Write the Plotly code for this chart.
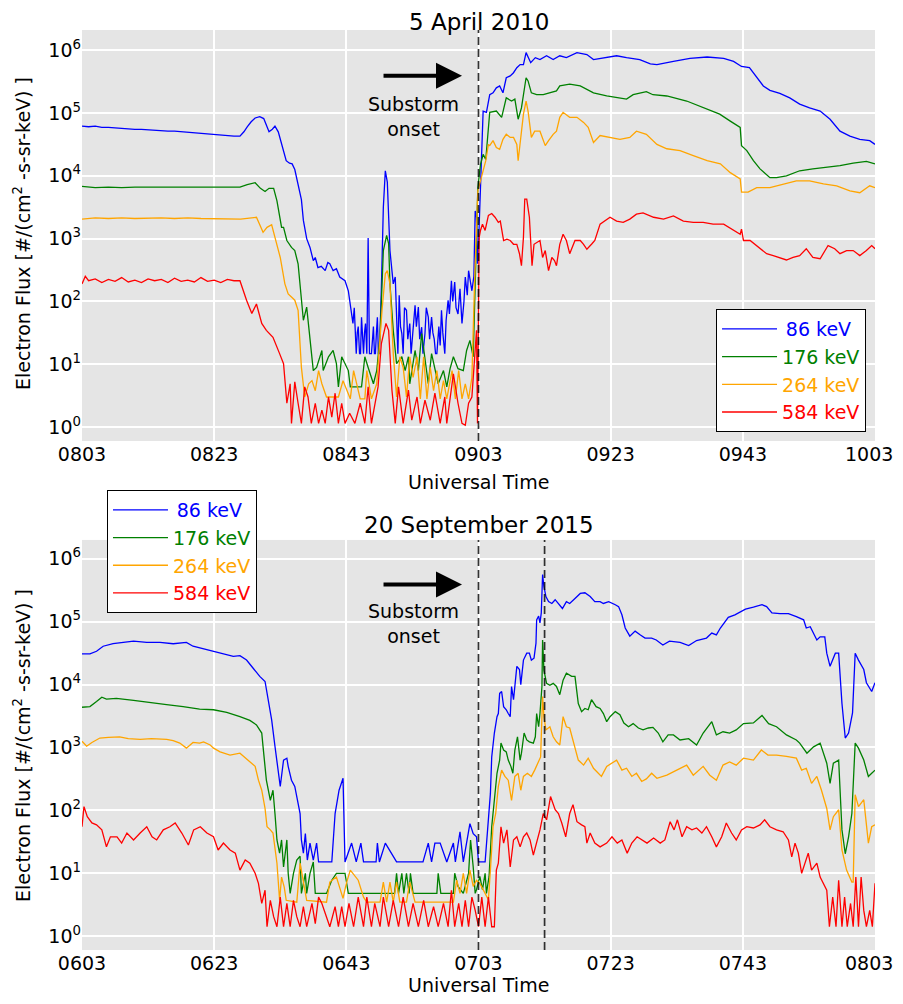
"""Electron flux at four energies around two substorm onsets (5 April 2010, 20 September 2015)."""

import plotly.graph_objects as go

# (minutes after 08:03 UT, log10 flux)
apr_86 = [
    (0, 4.79), (1, 4.78), (2, 4.79), (3, 4.77), (4, 4.77), (5, 4.76), (6, 4.76), (7, 4.75), (8, 4.74), (9, 4.74),
    (10, 4.73), (11, 4.72), (12, 4.72), (13, 4.71), (14, 4.71), (15, 4.70), (16, 4.70), (17, 4.69), (18, 4.68),
    (19, 4.67), (20, 4.65), (21, 4.64), (22, 4.64), (23, 4.63), (23.9, 4.63), (24.5, 4.70), (25, 4.78), (25.6, 4.86),
    (26.2, 4.92), (26.9, 4.94), (27.5, 4.91), (28.3, 4.70), (28.8, 4.74), (29.2, 4.79), (29.7, 4.70), (30.4, 4.45),
    (30.9, 4.24), (31.4, 4.20), (31.8, 4.19), (32.2, 4.10), (32.6, 3.89), (33.2, 3.62), (33.5, 3.29), (34.0, 3.00),
    (34.5, 2.86), (35.0, 2.65), (35.3, 2.70), (35.7, 2.54), (36.2, 2.56), (36.8, 2.49), (37.2, 2.62), (37.5, 2.60),
    (38.0, 2.49), (38.5, 2.52), (39.0, 2.39), (39.8, 2.33), (40.3, 2.17), (40.5, 2.02), (41.0, 1.65), (41.2, 1.90),
    (41.35, 1.40), (41.5, 1.17), (41.65, 1.50), (41.8, 1.60), (42.0, 1.17), (42.15, 1.17), (42.3, 1.75),
    (42.45, 1.30), (42.6, 1.17), (42.75, 1.50), (42.9, 1.65), (43.1, 1.17), (43.3, 3.01), (43.5, 1.17),
    (43.8, 1.17), (44.0, 1.45), (44.1, 1.60), (44.25, 1.17), (44.4, 1.17), (44.55, 1.50), (44.7, 1.75),
    (44.85, 1.17), (45.0, 1.17), (45.3, 2.20), (45.6, 3.50), (45.9, 4.08), (46.2, 3.90), (46.6, 2.81), (47.1, 2.28),
    (47.4, 2.39), (47.6, 1.86), (47.8, 1.17), (48.0, 2.10), (48.2, 1.60), (48.4, 1.49), (48.6, 1.17), (48.8, 1.90),
    (49.1, 1.86), (49.3, 1.40), (49.6, 1.65), (49.8, 1.17), (50.0, 1.40), (50.2, 1.75), (50.4, 1.94), (50.6, 1.60),
    (50.9, 1.91), (51.1, 1.40), (51.4, 1.59), (51.6, 1.17), (51.9, 1.49), (52.1, 1.90), (52.4, 1.75), (52.6, 1.40),
    (52.9, 1.75), (53.1, 1.50), (53.3, 1.40), (53.5, 1.17), (53.7, 1.17), (54.0, 1.60), (54.2, 1.30), (54.4, 1.86),
    (54.6, 1.50), (54.9, 1.17), (55.1, 1.70), (55.4, 2.02), (55.6, 1.80), (55.9, 2.33), (56.1, 2.00), (56.4, 2.31),
    (56.6, 1.90), (56.9, 1.80), (57.2, 2.20), (57.5, 1.65), (57.8, 2.00), (58.0, 2.39), (58.3, 2.10), (58.5, 2.49),
    (58.8, 2.30), (59.0, 2.17), (59.3, 2.40), (59.5, 3.44), (59.7, 3.34), (59.85, 2.60), (60.0, 2.90), (60.5, 4.56),
    (60.7, 5.03), (61.2, 5.01), (61.7, 5.29), (62.2, 5.32), (62.7, 5.40), (63.2, 5.43), (63.7, 5.32), (64.2, 5.56),
    (64.8, 5.59), (65.3, 5.64), (65.8, 5.72), (66.3, 5.77), (66.8, 5.77), (67.2, 5.96), (67.5, 5.88), (67.9, 5.80),
    (68.6, 5.88), (69.3, 5.85), (70.3, 5.91), (71.3, 5.85), (72.3, 5.91), (73.3, 5.88), (74.9, 5.96), (76.4, 5.93),
    (77.4, 5.85), (79.4, 5.88), (80.9, 5.91), (82.4, 5.88), (84.4, 5.85), (86.0, 5.78), (87.0, 5.77), (89.5, 5.82),
    (92.0, 5.87), (94.6, 5.89), (97.1, 5.87), (98.6, 5.82), (99.8, 5.74), (101.0, 5.72), (102.1, 5.56),
    (103.1, 5.43), (104.1, 5.36), (105.6, 5.31), (107.1, 5.24), (108.6, 5.14), (110.1, 5.08), (111.7, 5.03),
    (113.2, 4.90), (114.7, 4.71), (116.2, 4.63), (117.7, 4.58), (119.2, 4.56), (120, 4.50),
]
apr_176 = [
    (0, 3.83), (2, 3.81), (4, 3.82), (6, 3.81), (8, 3.82), (10, 3.82), (12, 3.81), (14, 3.82), (16, 3.82),
    (18, 3.81), (20, 3.82), (22, 3.82), (23.9, 3.82), (25, 3.86), (26.2, 3.89), (27, 3.80), (27.7, 3.75),
    (28.3, 3.80), (29.0, 3.80), (29.5, 3.60), (30.2, 3.18), (30.5, 3.18), (31.0, 2.97), (31.7, 2.86), (32.2, 2.81),
    (32.7, 2.60), (33.2, 2.02), (33.5, 1.70), (34.0, 1.91), (34.8, 1.06), (35.0, 0.90), (35.5, 0.95), (36.3, 1.22),
    (36.5, 0.90), (37.3, 1.12), (38.0, 1.22), (38.5, 1.01), (38.8, 0.64), (39.3, 1.12), (40.3, 0.90), (40.6, 0.64),
    (42.3, 0.64), (42.8, 1.12), (43.3, 0.95), (44.1, 0.69), (44.6, 0.90), (45.1, 1.44), (45.6, 2.81), (46.1, 3.05),
    (46.4, 2.92), (46.6, 2.28), (47.1, 1.54), (47.6, 1.01), (48.4, 1.12), (48.9, 0.90), (49.4, 1.12), (49.6, 0.69),
    (50.4, 1.22), (50.9, 0.90), (51.4, 1.49), (51.9, 1.12), (52.4, 0.69), (52.9, 1.17), (53.4, 0.90), (53.9, 0.69),
    (54.7, 0.90), (55.2, 0.64), (55.7, 0.93), (56.2, 1.12), (56.9, 0.93), (57.7, 0.90), (58.2, 1.22), (58.7, 1.38),
    (59.2, 1.12), (59.6, 2.81), (59.9, 3.81), (60.3, 4.18), (60.7, 4.34), (61.1, 4.26), (61.5, 4.82), (61.7, 5.01),
    (62.7, 5.03), (63.5, 4.93), (63.8, 5.06), (64.2, 5.24), (65.0, 5.19), (65.5, 5.22), (66.0, 4.90), (66.5, 5.08),
    (67.2, 5.56), (67.5, 5.51), (68.0, 5.32), (68.8, 5.29), (69.8, 5.29), (70.8, 5.32), (71.8, 5.35), (72.3, 5.43),
    (73.8, 5.46), (75.4, 5.43), (77.4, 5.32), (79.4, 5.27), (80.9, 5.24), (82.4, 5.22), (83.4, 5.29), (85.4, 5.34),
    (86.4, 5.29), (88.5, 5.27), (91.5, 5.19), (94.0, 5.08), (96.5, 4.98), (98.1, 4.87), (99.6, 4.77), (99.8, 4.48),
    (100.6, 4.40), (101.6, 4.24), (102.6, 4.11), (104.1, 3.97), (105.1, 3.97), (106.6, 4.00), (108.6, 4.08),
    (110.6, 4.11), (112.7, 4.13), (114.7, 4.16), (116.7, 4.20), (118.7, 4.23), (120, 4.19),
]
apr_264 = [
    (0, 3.31), (2, 3.33), (4, 3.32), (6, 3.33), (8, 3.32), (10, 3.33), (12, 3.33), (14, 3.32), (16, 3.33),
    (18, 3.32), (20, 3.32), (22, 3.31), (24, 3.31), (26.4, 3.34), (27.4, 3.10), (28.0, 3.18), (28.7, 3.22),
    (29.2, 3.02), (30.0, 2.70), (30.7, 2.28), (31.2, 2.12), (31.7, 2.07), (32.2, 2.02), (32.7, 1.86), (33.2, 0.95),
    (33.7, 0.48), (34.3, 0.69), (34.8, 0.74), (35.3, 0.58), (35.8, 0.90), (36.3, 0.69), (37.0, 0.48), (38.8, 0.48),
    (39.5, 0.74), (40.6, 0.45), (41.1, 0.90), (41.6, 0.69), (42.1, 0.45), (42.8, 0.45), (43.1, 0.90), (43.8, 0.45),
    (44.6, 0.69), (45.4, 1.86), (45.9, 2.44), (46.2, 2.49), (46.6, 2.28), (47.1, 1.17), (47.6, 0.48), (48.1, 1.12),
    (48.6, 0.95), (49.1, 0.48), (49.6, 1.12), (50.1, 0.79), (50.7, 1.12), (51.2, 0.45), (51.7, 1.12), (52.2, 0.45),
    (52.7, 0.95), (53.2, 0.58), (53.7, 0.90), (54.2, 0.45), (54.7, 0.74), (55.2, 0.45), (56.0, 0.90), (56.5, 0.45),
    (57.0, 0.90), (57.5, 0.45), (58.0, 0.69), (58.5, 0.45), (59.0, 0.79), (59.4, 2.28), (59.9, 3.76), (60.3, 3.92),
    (60.7, 4.08), (61.1, 4.24), (61.5, 4.50), (61.7, 4.48), (62.2, 4.56), (62.7, 4.45), (63.2, 4.42), (63.7, 4.58),
    (64.2, 4.66), (64.8, 4.61), (65.3, 4.61), (65.8, 4.50), (66.0, 4.24), (66.4, 4.61), (66.8, 4.98), (67.2, 5.19),
    (67.5, 5.03), (68.0, 4.61), (68.5, 4.71), (69.3, 4.71), (70.1, 4.48), (70.6, 4.56), (71.3, 4.66), (71.8, 4.71),
    (72.3, 4.93), (72.8, 5.01), (73.8, 4.93), (74.9, 4.93), (75.9, 4.85), (76.6, 4.77), (77.4, 4.53), (78.4, 4.64),
    (79.9, 4.61), (81.4, 4.58), (82.9, 4.61), (83.9, 4.71), (85.4, 4.66), (87.0, 4.50), (88.5, 4.43), (90.5, 4.40),
    (92.5, 4.32), (94.6, 4.24), (96.6, 4.19), (98.1, 4.05), (99.6, 3.95), (99.8, 3.74), (100.8, 3.74), (102.1, 3.81),
    (104.1, 3.81), (106.1, 3.87), (108.1, 3.92), (110.1, 3.92), (112.2, 3.87), (114.2, 3.84), (116.2, 3.76),
    (117.7, 3.73), (119.2, 3.84), (120, 3.81),
]
apr_584 = [
    (0, 2.28), (0.5, 2.40), (1, 2.33), (2, 2.36), (3, 2.30), (4, 2.35), (5, 2.32), (6, 2.38), (7, 2.31), (8, 2.34),
    (9, 2.30), (10, 2.36), (11, 2.33), (12, 2.35), (13, 2.30), (14, 2.37), (15, 2.32), (16, 2.34), (17, 2.31),
    (18, 2.38), (19, 2.32), (20, 2.34), (21, 2.30), (22, 2.35), (23, 2.33), (23.9, 2.33), (24.9, 2.02), (25.7, 1.81),
    (26.4, 1.96), (27.2, 1.65), (27.9, 1.54), (28.9, 1.43), (29.9, 1.17), (30.5, 1.01), (31.0, 0.38), (31.5, 0.69),
    (31.7, 0.06), (32.2, 0.72), (32.7, 0.38), (33.2, 0.06), (33.7, 0.64), (34.2, 0.48), (34.7, 0.06), (35.3, 0.38),
    (35.8, 0.06), (36.3, 0.27), (36.8, 0.06), (37.3, 0.48), (37.8, 0.16), (38.3, 0.54), (38.8, 0.06), (39.3, 0.38),
    (39.8, 0.06), (40.5, 0.22), (41.3, 0.06), (42.1, 0.38), (42.8, 0.06), (43.3, 0.64), (43.8, 0.06), (44.3, 0.32),
    (44.8, 0.64), (45.3, 1.33), (46.0, 1.65), (46.4, 1.54), (46.9, 0.59), (47.4, 0.06), (47.9, 0.64), (48.6, 0.06),
    (49.4, 0.59), (49.9, 0.11), (50.7, 0.48), (51.2, 0.06), (51.9, 0.43), (52.7, 0.11), (53.4, 0.54), (54.2, 0.06),
    (54.9, 0.48), (55.2, 0.06), (55.7, 0.48), (56.2, 0.85), (56.9, 0.38), (57.5, 0.06), (58.0, 0.03), (58.5, 0.38),
    (59.0, 0.48), (59.2, 0.80), (59.5, 1.12), (59.7, 1.54), (59.85, 0.06), (60.1, 3.02), (60.3, 3.13), (60.6, 3.23),
    (61.0, 3.13), (61.5, 3.37), (62.0, 3.40), (62.5, 3.34), (63.0, 3.26), (63.3, 3.28), (63.8, 2.97), (64.3, 2.99),
    (64.8, 2.97), (65.3, 2.91), (65.8, 2.91), (66.2, 2.76), (66.5, 2.57), (66.8, 3.02), (67.0, 3.63), (67.3, 3.63),
    (67.7, 3.34), (67.9, 2.86), (68.1, 2.57), (68.4, 2.91), (68.9, 2.94), (69.3, 2.97), (69.7, 2.70), (70.1, 2.81),
    (70.6, 2.49), (71.1, 2.70), (71.5, 2.65), (71.8, 2.57), (72.3, 2.91), (72.8, 3.07), (73.3, 2.97), (73.8, 2.76),
    (74.6, 2.97), (75.4, 2.97), (75.9, 2.91), (76.4, 2.83), (77.1, 2.91), (77.6, 2.97), (78.4, 3.23), (79.1, 3.28),
    (79.9, 3.34), (80.9, 3.28), (81.9, 3.26), (82.9, 3.31), (83.9, 3.39), (84.9, 3.41), (86.5, 3.34), (88.0, 3.31),
    (89.5, 3.36), (91.0, 3.28), (92.5, 3.26), (94.0, 3.26), (95.5, 3.23), (97.1, 3.23), (98.6, 3.13), (99.6, 3.07),
    (99.8, 3.15), (100.1, 2.97), (101.1, 2.97), (102.1, 2.89), (103.6, 2.76), (104.6, 2.73), (105.6, 2.70),
    (106.6, 2.66), (107.6, 2.70), (108.6, 2.73), (109.6, 2.84), (110.6, 2.70), (111.7, 2.68), (112.9, 2.89),
    (113.9, 2.84), (114.7, 2.76), (115.7, 2.81), (116.7, 2.81), (117.7, 2.73), (118.7, 2.81), (119.5, 2.89),
    (120, 2.84),
]

# (minutes after 06:03 UT, log10 flux)
sep_86 = [
    (0, 4.49), (1.2, 4.49), (2.2, 4.53), (3.2, 4.61), (4.7, 4.65), (6.7, 4.67), (7.8, 4.69), (9.8, 4.67),
    (11.8, 4.67), (13.8, 4.65), (15.8, 4.67), (16.8, 4.61), (18.4, 4.57), (19.9, 4.53), (21.4, 4.49), (22.9, 4.45),
    (23.9, 4.46), (24.9, 4.39), (25.9, 4.26), (26.9, 4.13), (27.7, 4.05), (28.2, 3.76), (28.7, 3.44), (29.2, 3.02),
    (30.0, 2.38), (30.5, 2.80), (31.0, 2.83), (31.2, 2.70), (31.7, 2.48), (32.2, 2.38), (32.7, 2.11), (33.0, 1.95),
    (33.2, 1.53), (33.5, 1.32), (33.8, 1.63), (34.1, 1.21), (34.5, 1.48), (35.0, 1.21), (35.5, 1.48), (35.8, 1.18),
    (37.8, 1.18), (38.3, 1.95), (38.9, 2.32), (39.5, 2.51), (39.8, 1.18), (40.8, 1.48), (41.5, 1.18), (42.2, 1.48),
    (42.6, 1.18), (44.5, 1.18), (44.7, 1.48), (45.0, 1.18), (45.9, 1.48), (47.6, 1.18), (51.6, 1.18), (52.4, 1.48),
    (52.9, 1.18), (53.4, 1.48), (54.2, 1.48), (55.2, 1.18), (56.2, 1.48), (56.5, 1.18), (57.2, 1.66), (57.7, 1.18),
    (58.7, 1.79), (59.2, 1.63), (59.7, 1.58), (60.0, 1.18), (61.0, 1.18), (61.2, 1.42), (61.5, 1.90), (61.8, 2.27),
    (62.0, 2.85), (62.4, 3.23), (62.8, 3.49), (63.0, 3.54), (63.2, 3.86), (63.5, 3.89), (63.8, 3.65), (64.2, 3.60),
    (64.5, 3.54), (64.8, 3.49), (65.0, 3.97), (65.3, 3.76), (65.8, 4.29), (66.2, 4.24), (66.4, 4.00), (66.8, 4.39),
    (67.3, 4.50), (67.7, 4.50), (68.0, 4.39), (68.4, 4.42), (68.7, 4.66), (68.8, 5.03), (69.1, 5.09), (69.3, 4.98),
    (69.5, 5.14), (69.7, 5.75), (69.9, 5.56), (70.2, 5.40), (70.6, 5.32), (71.1, 5.29), (71.6, 5.35), (72.1, 5.29),
    (72.7, 5.21), (73.3, 5.32), (73.8, 5.29), (74.6, 5.37), (75.4, 5.45), (76.1, 5.46), (76.9, 5.40), (77.6, 5.32),
    (78.4, 5.32), (78.9, 5.29), (79.7, 5.32), (80.7, 5.27), (81.2, 5.24), (81.7, 5.11), (82.2, 4.90), (82.9, 4.77),
    (83.7, 4.85), (84.5, 4.79), (85.2, 4.74), (86.2, 4.74), (86.9, 4.71), (87.9, 4.63), (88.9, 4.69), (90.5, 4.67),
    (91.8, 4.62), (93.0, 4.70), (94.5, 4.74), (95.3, 4.82), (96.0, 4.79), (96.6, 4.90), (97.8, 5.07), (98.8, 5.11),
    (99.6, 5.16), (100.4, 5.20), (101.6, 5.23), (102.9, 5.27), (103.6, 5.24), (104.4, 5.14), (105.6, 5.13),
    (106.9, 5.13), (108.1, 5.08), (109.2, 5.03), (109.6, 4.90), (110.2, 4.92), (111.2, 4.71), (111.7, 4.76),
    (112.4, 4.76), (112.7, 4.50), (113.2, 4.29), (114.0, 4.50), (114.5, 4.50), (115.0, 3.70), (115.5, 3.15),
    (116.0, 3.23), (116.6, 3.55), (117.0, 4.50), (117.5, 4.39), (118.3, 4.24), (118.7, 4.03), (119.5, 3.89),
    (120, 4.03),
]
sep_176 = [
    (0, 3.64), (1.2, 3.65), (2.2, 3.73), (3.0, 3.80), (3.7, 3.77), (5.2, 3.78), (7.8, 3.75), (10.3, 3.71),
    (12.8, 3.68), (15.3, 3.65), (17.8, 3.61), (19.9, 3.60), (21.9, 3.56), (23.9, 3.49), (25.4, 3.43), (26.4, 3.36),
    (27.2, 3.23), (27.4, 3.01), (27.9, 2.48), (28.5, 2.16), (28.9, 2.32), (29.2, 1.95), (29.5, 1.53), (29.9, 1.32),
    (30.2, 1.53), (30.5, 1.10), (31.0, 1.53), (31.2, 1.00), (31.5, 0.68), (32.0, 1.00), (32.5, 1.21), (33.0, 1.27),
    (33.2, 0.68), (33.8, 1.00), (34.0, 0.68), (34.5, 1.00), (35.0, 1.18), (35.3, 0.68), (37.0, 0.68), (37.8, 0.89),
    (38.5, 1.00), (39.8, 1.00), (40.3, 0.68), (47.3, 0.68), (47.6, 1.00), (47.9, 0.68), (48.4, 1.00), (48.7, 0.68),
    (49.1, 1.00), (49.5, 0.68), (49.7, 1.00), (50.1, 0.68), (53.7, 0.68), (53.9, 1.00), (54.3, 0.68), (56.2, 0.68),
    (56.4, 1.00), (56.9, 0.79), (57.7, 0.68), (58.5, 1.00), (58.8, 1.53), (59.2, 1.10), (59.5, 0.68), (59.7, 0.74),
    (60.2, 0.95), (60.6, 0.74), (61.0, 1.00), (61.2, 0.68), (61.6, 0.95), (62.0, 1.74), (62.4, 2.16), (62.8, 2.59),
    (63.2, 2.80), (63.4, 3.07), (63.8, 2.96), (64.2, 2.93), (64.5, 2.80), (64.9, 2.70), (65.2, 2.59), (65.5, 2.96),
    (65.9, 3.17), (66.3, 2.80), (66.5, 2.91), (66.9, 3.23), (67.3, 3.12), (67.7, 3.09), (68.3, 3.07), (68.6, 3.17),
    (68.8, 3.54), (69.1, 3.33), (69.3, 3.54), (69.6, 3.97), (69.7, 4.71), (69.9, 4.23), (70.3, 4.02), (70.8, 3.99),
    (71.3, 4.02), (71.8, 3.97), (72.3, 3.84), (72.8, 4.07), (73.3, 4.18), (74.1, 4.13), (74.6, 4.13), (75.1, 3.70),
    (75.6, 3.57), (76.1, 3.62), (76.6, 3.60), (77.1, 3.76), (77.8, 3.65), (78.4, 3.62), (78.9, 3.54), (79.4, 3.41),
    (79.9, 3.49), (80.7, 3.57), (81.4, 3.52), (82.0, 3.39), (82.7, 3.33), (83.4, 3.38), (84.2, 3.31), (84.9, 3.28),
    (85.7, 3.31), (86.4, 3.32), (87.2, 3.23), (87.9, 3.09), (88.7, 3.20), (89.5, 3.20), (90.5, 3.12), (91.8, 3.14),
    (93.0, 3.04), (94.0, 3.23), (95.3, 3.41), (96.0, 3.20), (97.0, 3.25), (98.0, 3.23), (99.0, 3.28), (100.1, 3.38),
    (101.6, 3.39), (102.9, 3.51), (103.9, 3.38), (105.1, 3.33), (106.6, 3.20), (108.1, 3.12), (108.6, 3.07),
    (109.7, 2.91), (110.7, 3.01), (111.7, 3.07), (112.7, 2.75), (113.2, 2.43), (113.7, 2.75), (114.5, 2.80),
    (115.0, 1.69), (115.5, 1.31), (116.0, 1.58), (116.5, 1.95), (117.0, 3.07), (117.5, 2.99), (118.3, 2.80),
    (119.0, 2.54), (119.5, 2.59), (120, 2.64),
]
sep_264 = [
    (0, 3.10), (0.7, 3.02), (1.5, 3.08), (2.7, 3.15), (4.0, 3.16), (5.7, 3.17), (7.0, 3.14), (8.8, 3.13),
    (10.5, 3.14), (12.8, 3.13), (13.8, 3.11), (14.8, 3.07), (15.8, 2.99), (16.8, 3.08), (17.8, 3.07), (18.4, 3.09),
    (19.4, 3.04), (19.9, 2.99), (20.9, 2.93), (22.4, 2.88), (23.9, 2.91), (25.2, 2.80), (26.2, 2.70), (26.7, 2.48),
    (27.2, 2.32), (27.7, 2.03), (28.0, 1.74), (28.5, 1.69), (28.9, 1.64), (29.5, 1.16), (29.9, 0.57), (30.2, 0.94),
    (30.6, 0.78), (30.9, 0.57), (32.5, 0.54), (33.0, 1.16), (33.5, 0.84), (34.0, 0.57), (37.0, 0.54), (37.5, 0.86),
    (38.5, 0.94), (39.5, 0.60), (40.0, 0.84), (40.6, 1.05), (41.8, 0.89), (42.6, 0.62), (43.1, 0.54), (45.1, 0.54),
    (45.6, 0.86), (46.1, 0.54), (46.6, 0.86), (47.1, 0.54), (47.6, 0.86), (48.1, 0.54), (49.1, 0.54), (49.6, 0.86),
    (50.4, 0.54), (56.2, 0.54), (56.7, 0.89), (57.2, 0.68), (57.7, 1.00), (58.2, 0.68), (58.7, 1.05), (59.2, 0.79),
    (59.7, 0.89), (60.2, 0.84), (60.7, 0.74), (61.5, 0.58), (61.8, 1.05), (62.2, 1.74), (62.6, 1.95), (63.0, 2.38),
    (63.5, 2.64), (64.0, 2.54), (64.5, 2.48), (65.0, 2.16), (65.5, 2.54), (66.0, 2.59), (66.4, 2.32), (66.8, 2.54),
    (67.4, 2.59), (68.0, 2.54), (68.5, 2.64), (69.0, 2.75), (69.4, 2.85), (69.6, 3.49), (69.7, 3.81), (69.9, 3.49),
    (70.2, 3.28), (70.8, 3.33), (71.3, 3.17), (71.8, 3.09), (72.3, 3.04), (72.8, 3.49), (73.3, 3.33), (73.8, 3.31),
    (74.6, 3.01), (75.1, 2.80), (75.9, 2.72), (76.6, 2.83), (77.4, 2.67), (78.1, 2.59), (78.6, 2.54), (79.4, 2.70),
    (80.2, 2.75), (80.9, 2.80), (81.7, 2.64), (82.4, 2.67), (83.2, 2.54), (83.9, 2.59), (84.7, 2.46), (85.4, 2.50),
    (86.2, 2.59), (87.0, 2.51), (88.5, 2.56), (90.0, 2.64), (91.5, 2.72), (92.5, 2.56), (94.0, 2.70), (95.0, 2.56),
    (96.0, 2.48), (97.0, 2.72), (98.0, 2.77), (99.0, 2.72), (100.1, 2.83), (101.6, 2.80), (102.8, 2.96),
    (103.8, 2.88), (105.1, 2.88), (106.6, 2.86), (108.1, 2.83), (108.9, 2.64), (109.6, 2.67), (110.4, 2.43),
    (111.2, 2.54), (111.9, 2.32), (112.7, 2.03), (113.2, 1.69), (113.7, 1.90), (114.5, 2.01), (115.0, 1.37),
    (115.7, 1.05), (116.5, 0.86), (116.7, 0.86), (117.0, 2.25), (117.5, 2.06), (118.3, 2.17), (119.0, 1.48),
    (119.5, 1.74), (120, 1.77),
]
sep_584 = [
    (0, 1.74), (0.3, 2.06), (0.8, 1.90), (1.5, 1.80), (2.2, 1.77), (3.0, 1.69), (3.7, 1.42), (4.3, 1.58),
    (5.3, 1.58), (6.0, 1.48), (6.8, 1.64), (7.8, 1.53), (8.8, 1.64), (9.8, 1.74), (10.6, 1.58), (11.3, 1.53),
    (12.3, 1.69), (13.3, 1.74), (14.1, 1.80), (15.1, 1.64), (16.1, 1.45), (16.9, 1.69), (17.9, 1.74), (18.9, 1.64),
    (19.9, 1.58), (20.6, 1.37), (21.4, 1.48), (22.4, 1.37), (23.2, 1.32), (23.9, 1.05), (24.7, 1.21), (25.4, 1.16),
    (26.2, 1.00), (26.7, 0.84), (27.2, 0.52), (27.7, 0.73), (28.0, 0.15), (28.5, 0.57), (29.0, 0.31), (29.5, 0.15),
    (30.0, 0.62), (30.5, 0.15), (31.0, 0.52), (31.5, 0.15), (32.0, 0.57), (32.5, 0.31), (33.0, 0.15), (33.5, 0.47),
    (34.0, 0.15), (34.8, 0.52), (35.3, 0.20), (35.8, 0.62), (36.3, 0.52), (37.0, 0.31), (37.5, 0.15), (38.3, 0.47),
    (38.8, 0.15), (39.3, 0.47), (39.8, 0.15), (40.4, 0.52), (41.1, 0.15), (41.8, 0.62), (42.6, 0.15), (43.1, 0.62),
    (43.8, 0.15), (44.3, 0.52), (45.1, 0.15), (45.6, 0.62), (46.4, 0.15), (47.1, 0.57), (47.9, 0.15), (48.6, 0.62),
    (49.4, 0.15), (50.1, 0.52), (50.9, 0.15), (51.7, 0.57), (52.4, 0.15), (53.2, 0.47), (53.9, 0.15), (54.7, 0.52),
    (55.4, 0.15), (55.9, 0.73), (56.4, 0.15), (57.0, 0.52), (57.5, 0.15), (58.0, 0.57), (58.5, 0.15), (59.0, 0.62),
    (59.5, 0.41), (60.0, 0.15), (60.5, 0.62), (61.0, 0.15), (61.5, 0.62), (62.0, 0.15), (62.4, 0.15), (62.7, 1.05),
    (63.0, 1.16), (63.4, 1.74), (63.8, 1.48), (64.3, 1.69), (64.8, 1.10), (65.3, 1.53), (65.8, 1.58), (66.3, 1.42),
    (66.8, 1.58), (67.3, 1.64), (67.8, 1.53), (68.3, 1.29), (68.8, 1.48), (69.3, 1.69), (69.8, 1.95), (70.3, 1.85),
    (70.9, 2.22), (71.6, 2.01), (72.1, 1.95), (72.6, 1.80), (73.2, 1.58), (73.8, 1.95), (74.3, 2.09), (74.9, 1.82),
    (75.6, 1.77), (76.1, 1.74), (76.4, 1.48), (76.9, 1.64), (77.6, 1.48), (78.4, 1.42), (79.4, 1.48), (80.2, 1.58),
    (81.0, 1.48), (81.7, 1.53), (82.5, 1.32), (83.2, 1.48), (84.0, 1.58), (84.7, 1.53), (85.5, 1.48), (86.5, 1.56),
    (87.5, 1.48), (88.2, 1.53), (89.0, 1.82), (89.6, 1.69), (90.1, 1.85), (90.8, 1.58), (91.5, 1.74), (92.3, 1.69),
    (93.0, 1.72), (93.8, 1.64), (94.5, 1.74), (95.3, 1.58), (96.0, 1.42), (96.8, 1.58), (97.5, 1.80), (98.3, 1.64),
    (99.0, 1.53), (99.8, 1.69), (100.6, 1.74), (101.6, 1.72), (102.6, 1.77), (103.3, 1.85), (104.1, 1.74),
    (105.1, 1.69), (106.1, 1.66), (106.9, 1.53), (107.4, 1.26), (107.9, 1.48), (108.4, 1.32), (108.9, 1.00),
    (109.4, 1.16), (109.9, 1.32), (110.4, 1.05), (111.2, 1.16), (111.7, 0.94), (112.2, 0.84), (112.7, 0.73),
    (113.1, 0.15), (113.6, 0.62), (114.1, 0.15), (114.5, 0.89), (115.0, 0.15), (115.4, 0.62), (115.8, 0.15),
    (116.3, 0.52), (116.7, 0.15), (117.1, 0.94), (117.5, 0.15), (117.9, 0.94), (118.3, 0.41), (118.7, 0.15),
    (119.2, 0.41), (119.6, 0.15), (120, 0.84),
]

energy_labels = ["\u200986 keV", "176 keV", "264 keV", "584 keV"]
line_colors = ["#0000ff", "#008000", "#ffa500", "#ff0000"]
apr_ticks = ["0803", "0823", "0843", "0903", "0923", "0943", "1003"]
sep_ticks = ["0603", "0623", "0643", "0703", "0723", "0743", "0803"]
tick_minutes = [0, 20, 40, 60, 80, 100, 120]
apr_onsets = [60]
sep_onsets = [60, 70]
panel_titles = ["5 April 2010", "20 September 2015"]

FONT = "DejaVu Sans"
BG = "#e5e5e5"
decades = [0, 1, 2, 3, 4, 5, 6]

fig = go.Figure()

panels = [
    ([apr_86, apr_176, apr_264, apr_584], "x", "y", "legend"),
    ([sep_86, sep_176, sep_264, sep_584], "x2", "y2", "legend2"),
]
for series, xa, ya, leg in panels:
    for pts, label, color in zip(series, energy_labels, line_colors):
        fig.add_trace(
            go.Scatter(
                x=[p[0] for p in pts],
                y=[10 ** p[1] for p in pts],
                mode="lines",
                line=dict(color=color, width=1.3),
                name=f"<span style='color:{color}'>{label}</span>",
                xaxis=xa,
                yaxis=ya,
                legend=leg,
            )
        )

grid_style = dict(showgrid=True, gridcolor="white", gridwidth=1.6, zeroline=False, showline=False, ticks="")
x_common = dict(range=[0, 120], tickvals=tick_minutes, tickfont=dict(family=FONT, size=19, color="black"), **grid_style)
y_common = dict(type="log", tickvals=[10 ** d for d in decades], ticktext=[f"10<sup>{d}</sup>" for d in decades],
                tickfont=dict(family=FONT, size=19, color="black"), **grid_style)
legend_common = dict(bgcolor="white", bordercolor="black", borderwidth=1, itemwidth=55,
                     font=dict(family=FONT, size=19))

# the page body adds an 8px margin all round, so the figure is 16px smaller than the window;
# the last time label would spill past the figure edge, so it is drawn right-aligned instead
fig.update_layout(
    width=887,
    height=988,
    margin=dict(l=74, r=20, t=22, b=46),
    paper_bgcolor="white",
    plot_bgcolor=BG,
    font=dict(family=FONT, color="black"),
    xaxis=dict(domain=[0, 1], anchor="y", ticktext=apr_ticks[:-1] + [""], **x_common),
    yaxis=dict(domain=[0.5533, 1], anchor="x", range=[-0.22, 6.32], **y_common),
    xaxis2=dict(domain=[0, 1], anchor="y2", ticktext=sep_ticks[:-1] + [""], **x_common),
    yaxis2=dict(domain=[0, 0.4457], anchor="x2", range=[-0.22, 6.30], **y_common),
    legend=dict(x=0.9887, xanchor="right", y=0.6967, yanchor="top", **legend_common),
    legend2=dict(x=0.0315, xanchor="left", y=0.5, yanchor="top", **legend_common),
)
for label, ty in [(apr_ticks[-1], 0.5391), (sep_ticks[-1], -0.0141)]:
    fig.add_annotation(x=1.0252, y=ty, xref="paper", yref="paper", text=label, showarrow=False,
                       xanchor="right", yanchor="middle", font=dict(family=FONT, size=19, color="black"))

for t in apr_onsets:
    fig.add_shape(type="line", xref="x", yref="y domain", x0=t, x1=t, y0=0, y1=1,
                  line=dict(color="rgba(0,0,0,0.8)", width=1.7, dash="8px,4px"))
for t in sep_onsets:
    fig.add_shape(type="line", xref="x2", yref="y2 domain", x0=t, x1=t, y0=0, y1=1,
                  line=dict(color="rgba(0,0,0,0.8)", width=1.7, dash="8px,4px"))

# arrow + label in each panel (positions in log10 units on log axes)
for xa, ya, arrow_y, text_y in [("x", "y", 5.59, 4.95), ("x2", "y2", 5.59, 4.97)]:
    fig.add_annotation(x=57.5, y=arrow_y, ax=45.4, ay=arrow_y, xref=xa, yref=ya, axref=xa, ayref=ya,
                       text="", showarrow=True, arrowhead=2, arrowsize=1.3, arrowwidth=4, arrowcolor="black")
    fig.add_annotation(x=50.2, y=text_y, xref=xa, yref=ya, text="Substorm<br>onset", showarrow=False,
                       font=dict(family=FONT, size=19, color="black"))

for title, ty in zip(panel_titles, [1.0092, 0.462]):
    fig.add_annotation(x=0.5, y=ty, xref="paper", yref="paper", text=title, showarrow=False,
                       xanchor="center", yanchor="middle", font=dict(family=FONT, size=23, color="black"))
for ty in [0.5087, -0.0380]:
    fig.add_annotation(x=0.5, y=ty, xref="paper", yref="paper", text="Universal Time", showarrow=False,
                       xanchor="center", yanchor="middle", font=dict(family=FONT, size=19, color="black"))
for ty in [0.7793, 0.2228]:
    fig.add_annotation(x=-0.0757, y=ty, xref="paper", yref="paper", textangle=-90, showarrow=False,
                       text="Electron Flux [#/(cm<sup>2</sup> -s-sr-keV) ]",
                       xanchor="center", yanchor="middle", font=dict(family=FONT, size=19, color="black"))

fig.write_html("out.html")
